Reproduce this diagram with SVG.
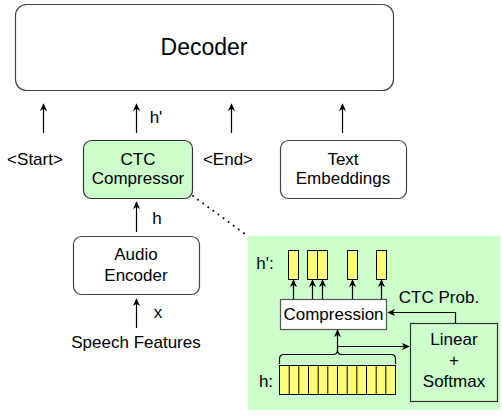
<svg xmlns="http://www.w3.org/2000/svg" width="502" height="416" viewBox="0 0 502 416">
<style>
text{font-family:"Liberation Sans",Arial,sans-serif;font-size:17px;fill:#000;text-anchor:middle}
.box{fill:#fff;stroke:#444;stroke-width:1.2}
.g{fill:#ccffcc;stroke:#333;stroke-width:1.2}
.ln{fill:none;stroke:#000;stroke-width:1.2}
.y{fill:#ffff77;stroke:#000;stroke-width:1}
</style>
<defs>
<marker id="arr" viewBox="0 0 10 10" refX="9" refY="5" markerWidth="8" markerHeight="8" markerUnits="userSpaceOnUse" orient="auto">
<path d="M0,0.5 L10,5 L0,9.5 L3,5 z" fill="#000"/>
</marker>
</defs>
<rect x="248" y="236" width="252" height="174" fill="#ccffcc"/>
<g id="decoder"><rect class="box" x="15.5" y="4.5" width="378" height="86" rx="11"/><text x="204" y="55" style="font-size:23px">Decoder</text></g>
<g id="start"><text x="35" y="165">&lt;Start&gt;</text></g>
<g id="end"><text x="228" y="165">&lt;End&gt;</text></g>
<g id="ctc"><rect class="g" x="83.5" y="140.5" width="109" height="58" rx="8"/><text x="138" y="165">CTC</text><text x="138" y="184">Compressor</text></g>
<g id="text-emb"><rect class="box" x="280.5" y="140.5" width="126" height="58" rx="8"/><text x="343" y="165">Text</text><text x="343" y="184">Embeddings</text></g>
<g id="audio"><rect class="box" x="73.5" y="236.5" width="126" height="58" rx="8"/><text x="136" y="260">Audio</text><text x="136" y="281">Encoder</text></g>
<g id="speech"><text x="136" y="348">Speech Features</text></g>
<g id="labels"><text x="156" y="123">h'</text><text x="157" y="224">h</text><text x="158" y="318">x</text></g>
<g id="panel">
<text x="265" y="269">h':</text>
<text x="266" y="387">h:</text>
<rect class="y" x="288.5" y="250.5" width="10" height="29"/>
<rect class="y" x="307.5" y="250.5" width="10" height="29"/>
<rect class="y" x="317.5" y="250.5" width="10" height="29"/>
<rect class="y" x="347.5" y="250.5" width="10" height="29"/>
<rect class="y" x="376.5" y="250.5" width="10" height="29"/>
<g id="compression"><rect x="280.5" y="299.5" width="106" height="30" fill="#fff" stroke="#555" stroke-width="1.2"/><text x="333.5" y="320">Compression</text></g>
<g id="linear"><rect x="410.5" y="323.5" width="87" height="78" fill="#ccffcc" stroke="#333" stroke-width="1.2"/><text x="454" y="345">Linear</text><text x="454" y="366">+</text><text x="454" y="387">Softmax</text></g>
<text x="439" y="303">CTC Prob.</text>
<g id="hcells">
<rect class="y" x="279.5" y="365.5" width="116" height="29"/>
<path class="ln" style="stroke-width:1" d="M289.2,365.5v29M298.8,365.5v29M308.5,365.5v29M318.2,365.5v29M327.8,365.5v29M337.5,365.5v29M347.2,365.5v29M356.8,365.5v29M366.5,365.5v29M376.2,365.5v29M385.8,365.5v29"/>
</g>
<path class="ln" d="M279.5,364 L279.5,359 Q279.5,354.5 284,354.5 L333,354.5 Q337.5,354.5 337.5,350 Q337.5,354.5 342,354.5 L391,354.5 Q395.5,354.5 395.5,359 L395.5,364"/>
</g>
<g id="connectors">
<line class="ln" x1="43.5" y1="133" x2="43.5" y2="104" marker-end="url(#arr)"/>
<line class="ln" x1="136.5" y1="133" x2="136.5" y2="104" marker-end="url(#arr)"/>
<line class="ln" x1="231.5" y1="133" x2="231.5" y2="104" marker-end="url(#arr)"/>
<line class="ln" x1="342.5" y1="133" x2="342.5" y2="104" marker-end="url(#arr)"/>
<line class="ln" x1="136.5" y1="232" x2="136.5" y2="202" marker-end="url(#arr)"/>
<line class="ln" x1="136.5" y1="328" x2="136.5" y2="299" marker-end="url(#arr)"/>
<line x1="193" y1="196" x2="245" y2="234" stroke="#000" stroke-width="2" stroke-linecap="round" stroke-dasharray="0 6.3"/>
<line class="ln" x1="293.5" y1="299" x2="293.5" y2="280" marker-end="url(#arr)"/>
<line class="ln" x1="312.5" y1="299" x2="312.5" y2="280" marker-end="url(#arr)"/>
<line class="ln" x1="322.5" y1="299" x2="322.5" y2="280" marker-end="url(#arr)"/>
<line class="ln" x1="352.5" y1="299" x2="352.5" y2="280" marker-end="url(#arr)"/>
<line class="ln" x1="381.5" y1="299" x2="381.5" y2="280" marker-end="url(#arr)"/>
<line class="ln" x1="337.5" y1="351" x2="337.5" y2="330" marker-end="url(#arr)"/>
<path class="ln" d="M337.5,346.5 L409,346.5" marker-end="url(#arr)"/>
<path class="ln" d="M455.5,323 L455.5,312.5 L388,312.5" marker-end="url(#arr)"/>
</g>
</svg>
